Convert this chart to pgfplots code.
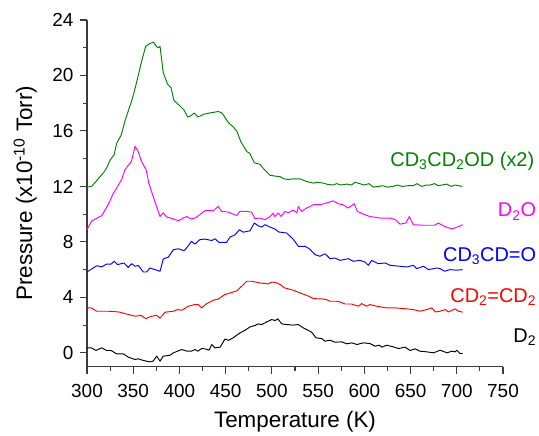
\documentclass[border=0pt]{standalone}
\usepackage{fontspec}
\setmainfont{Liberation Sans}
\usepackage{pgfplots}
\pgfplotsset{compat=1.18}
\definecolor{cgreen}{RGB}{0,128,0}
\definecolor{cmag}{RGB}{255,0,255}
\definecolor{cblue}{RGB}{0,0,255}
\definecolor{cred}{RGB}{255,0,0}
\definecolor{caxis}{RGB}{60,60,60}
\begin{document}
\begin{tikzpicture}
\begin{axis}[
  name=ax,
  scale only axis,
  width=416bp, height=346.7bp,
  xmin=300, xmax=750, ymin=-1, ymax=24,
  axis x line*=bottom, axis y line*=left,
  axis line style={-, caxis, line width=1.2pt},
  xtick={300,350,...,750}, ytick={0,4,...,24},
  minor x tick num=1, minor y tick num=1,
  tick align=outside,
  major tick length=7bp, minor tick length=4bp,
  tick style={caxis, line width=1.1pt},
  /pgf/number format/assume math mode=true,
  tick label style={font=\fontsize{19}{20}\selectfont},
  xticklabel style={yshift=-7bp},
  yticklabel style={xshift=-3bp},
  xlabel={Temperature (K)},
  ylabel={Pressure (x10\textsuperscript{-10} Torr)},
  label style={font=\fontsize{22.5}{24}\selectfont},
  xlabel style={at={(axis description cs:0.5,-0.176)}, anchor=base},
  ylabel style={at={(axis description cs:-0.132,0.5)}, anchor=base},
  clip=false,
  every axis plot/.append style={line width=0.95pt, line join=round},
]
\addplot[cgreen] coordinates {(300,11.95)(305,12.0)(309,12.3)(314,12.7)(318,13.0)(321,13.3)(325,13.9)(329.5,14.3)(332,15.1)(337,15.7)(341,16.7)(345,17.5)(348,18.1)(351,18.8)(354,19.6)(359,21.0)(363.5,22.1)(368,22.3)(372,22.4)(375,22.1)(377,22.0)(379,22.1)(382.5,20.2)(387,19.4)(391,19.1)(394,18.2)(399,17.9)(405,17.5)(409,17.0)(412.5,17.1)(416,17.3)(420,17.0)(426,17.2)(433,17.3)(442,17.4)(446,17.3)(453,16.6)(458,16.3)(462,16.0)(466.6,15.2)(473,14.5)(476,14.4)(481,13.7)(487,13.6)(492,13.2)(498,12.8)(503,12.75)(509,12.7)(513,12.55)(518,12.5)(523,12.55)(530,12.55)(534,12.45)(537.6,12.35)(541,12.3)(545,12.24)(549,12.3)(555.6,12.24)(560,12.15)(566.4,12.1)(570,12.2)(575,12.1)(581,12.17)(586,12.1)(590,12.3)(595,12.2)(600,12.1)(605,12.2)(609.7,11.95)(615,12.0)(620,12.05)(625,11.95)(631,12.0)(636,12.1)(641,12.0)(647,12.05)(653,12.05)(657,12.2)(662,12.0)(667,12.1)(671,12.1)(676,12.2)(680,12.05)(684,12.1)(689,12.17)(694,12.0)(698,12.1)(702,12.05)(706,12.0)};
\addplot[cmag] coordinates {(300,8.88)(305,9.5)(310.5,9.7)(316,9.9)(323,10.7)(328.5,11.5)(334,12.1)(337.5,12.5)(341,13.2)(348,13.8)(352,14.9)(355.5,14.5)(359,13.8)(364,13.2)(367,12.2)(372,11.2)(374,10.8)(379,9.83)(382.5,10.1)(386,9.8)(393,9.67)(399,9.52)(404,9.72)(408,9.83)(412.5,9.65)(417,9.72)(422,9.96)(427.6,10.25)(436.6,10.25)(442,10.55)(445.7,10.2)(452.8,10.15)(462,9.9)(465.4,10.2)(472.6,10.2)(478,10.15)(481.7,9.67)(487,9.72)(492.6,9.6)(498,9.83)(501.5,10.08)(503,9.83)(507,10.08)(510,9.83)(514,10.2)(518,10.1)(523,10.3)(527,10.1)(528.6,10.55)(532,10.2)(537.6,10.44)(545,10.68)(552,10.68)(559,10.8)(566.4,10.96)(571.6,10.75)(577,10.68)(582.7,10.44)(589,10.75)(592.4,10.2)(599,10.0)(606,9.83)(617,9.72)(628,9.72)(633.6,9.6)(638.6,9.28)(645,9.36)(648.7,9.83)(653,9.24)(664,9.2)(676,9.2)(680,9.36)(687,9.12)(694.5,8.93)(700,9.05)(706.4,9.24)};
\addplot[cblue] coordinates {(300,5.83)(305,6.05)(310.5,6.28)(316,6.2)(321,6.4)(326,6.4)(329.6,6.6)(333,6.36)(340,6.48)(344.6,6.16)(348.3,6.43)(352,6.24)(355.5,6.3)(361,5.83)(364.6,5.83)(368,6.12)(373.6,6.0)(379,5.88)(382.5,6.77)(388,6.9)(393.4,7.44)(398.8,7.5)(405,7.36)(409.6,7.72)(413,8.04)(416.7,7.84)(422,8.16)(427.6,8.2)(435,8.1)(438.4,8.23)(442.8,7.96)(451,7.96)(454.7,8.35)(460,8.5)(464.8,8.88)(469,8.7)(476.3,8.8)(481,9.36)(485,9.17)(489,9.07)(492.6,9.24)(498,9.07)(503.5,8.92)(507.7,8.71)(516,8.64)(523,8.2)(528.6,7.68)(536,7.68)(541,7.48)(546.6,7.08)(552,6.96)(557.4,7.15)(563,6.79)(568,6.84)(573.7,6.67)(582.7,6.79)(588,6.6)(595,6.67)(600.7,6.55)(604.3,6.31)(608,6.67)(615,6.43)(622.6,6.48)(628,6.31)(638.6,6.24)(646,6.19)(653,6.31)(656.8,6.07)(664,6.24)(669.5,6.0)(678.5,6.12)(682,6.07)(687,5.88)(692.6,6.0)(700,5.96)(706.4,6.0)};
\addplot[cred] coordinates {(300,3.24)(304.7,3.24)(310.5,3.0)(323,3.0)(334,2.95)(341,2.83)(352,2.64)(358.5,2.7)(363.5,2.47)(370,2.64)(375.5,2.7)(379,2.5)(384.4,2.93)(393.4,3.0)(398,3.12)(402.5,3.07)(409.6,3.36)(416.7,3.48)(420.4,3.48)(424,3.24)(429.4,3.55)(436.6,3.79)(442,3.88)(449,4.2)(456.5,4.35)(462,4.47)(467.3,4.8)(472.8,5.16)(478,5.16)(487,5.04)(496.2,4.97)(500,5.11)(505.4,5.04)(509,4.92)(514,4.68)(523,4.52)(530.4,4.32)(537.6,4.15)(545,3.91)(554,3.89)(559,3.84)(563,3.72)(570,3.72)(573.7,3.67)(579,3.52)(586,3.52)(593.5,3.36)(597,3.55)(602.6,3.36)(606,3.48)(613.6,3.36)(624,3.24)(633.6,3.24)(646,3.17)(653,3.12)(660,3.0)(667.7,3.12)(673,3.24)(676.7,2.95)(682,3.0)(687.5,3.12)(691,2.95)(698,3.17)(702,3.0)(706.4,2.93)};
\addplot[black] coordinates {(300,0.36)(305,0.36)(309.7,0.17)(316,0.36)(321,0.17)(326,0.17)(332,-0.07)(339.3,-0.07)(344.7,-0.31)(352,-0.48)(355.5,-0.43)(361,-0.55)(368,-0.65)(371.5,-0.6)(375.4,-0.24)(379,-0.6)(382.5,-0.24)(390,-0.17)(393.4,0.0)(402.4,0.24)(408,0.12)(413,0.12)(416.7,0.24)(420,0.12)(424,0.31)(427.6,0.29)(432,0.19)(435,0.6)(438.4,0.36)(444,0.41)(449.3,1.0)(453,0.9)(458,1.08)(465.5,1.44)(471,1.63)(476.3,1.87)(481.7,1.97)(485.4,2.09)(489,2.04)(494.4,2.23)(499.8,2.4)(503.5,2.33)(506.4,2.45)(510.6,2.09)(516,2.04)(523,2.0)(528.6,2.04)(534,1.8)(543,1.49)(547.7,1.08)(554,1.03)(557.4,0.84)(563,0.91)(568,0.77)(575.6,0.79)(581,0.65)(586.4,0.72)(592,0.6)(599,0.72)(606,0.67)(611.7,0.48)(616.2,0.55)(619,0.41)(624,0.55)(631.4,0.43)(637,0.31)(644,0.41)(649.5,0.17)(655,0.29)(660,0.12)(667.7,0.07)(675,0.0)(682,0.19)(689.5,0.0)(694.5,0.12)(698.3,0.07)(700,0.19)(703.6,-0.05)(706.4,-0.05)};
\begin{scope}[every node/.style={anchor=base east, inner sep=0pt, font=\fontsize{20}{22}\selectfont}]
\node[text=cgreen] at (axis cs:784,13.43) {CD\textsubscript{3}CD\textsubscript{2}OD (x2)};
\node[text=cmag] at (axis cs:786,9.8) {D\textsubscript{2}O};
\node[text=cblue] at (axis cs:786,6.57) {CD\textsubscript{3}CD=O};
\node[text=cred] at (axis cs:786,3.62) {CD\textsubscript{2}=CD\textsubscript{2}};
\node[text=black] at (axis cs:786,0.74) {D\textsubscript{2}};
\end{scope}
\end{axis}
\path ([xshift=-87bp,yshift=-68.3bp]ax.south west) rectangle ([xshift=36bp,yshift=20bp]ax.north east);
\end{tikzpicture}
\end{document}
